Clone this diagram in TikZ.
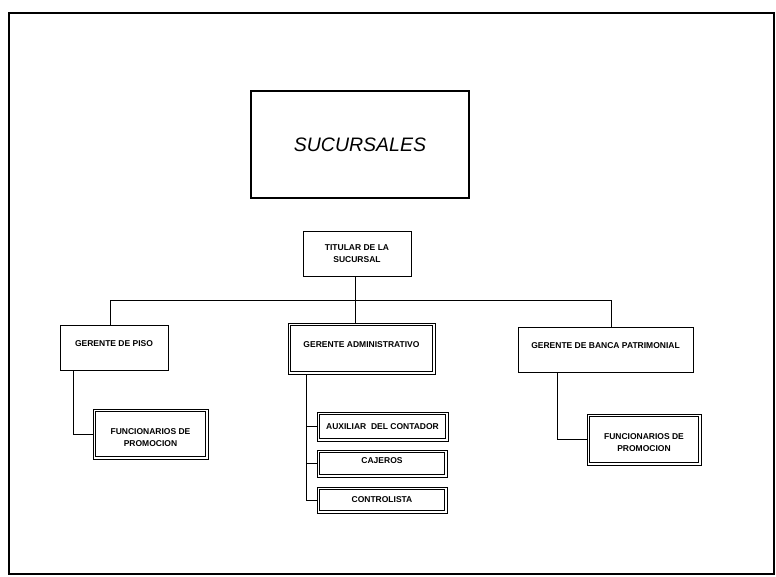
\documentclass[tikz,border=0pt]{standalone}
\usepackage{fontspec}
\setmainfont{Liberation Sans}
\newcommand\rtext[2]{\raisebox{#1}[\height][\depth]{\begin{tabular}{@{}c@{}}#2\end{tabular}}}
\begin{document}
\begin{tikzpicture}[x=1pt,y=-1pt,
  box/.style={draw=black, line width=1pt, align=center, inner sep=1pt,
    font=\fontsize{8.5}{12}\selectfont\bfseries},
  dbox/.style={box},
  inner/.style={draw=black, line width=0.8pt},
  conn/.style={draw=black, line width=0.9pt}]
\useasboundingbox (0,0) rectangle (776,577);
\draw[line width=2pt] (9,13) rectangle (774,574);

\node[draw=black, line width=1.2pt, minimum width=218pt, minimum height=107pt,
  font=\fontsize{19.5}{22}\selectfont\itshape] (suc) at (360,144.5) {SUCURSALES};

\node[box, minimum width=108pt, minimum height=45pt] (tit) at (357,254.5) {\rtext{0pt}{TITULAR DE LA\\SUCURSAL}};
\node[box, minimum width=108pt, minimum height=45pt] (piso) at (114,347.5) {\rtext{3pt}{GERENTE DE PISO}};
\node[dbox, minimum width=147pt, minimum height=51pt] (adm) at (361.5,348.5) {\rtext{3pt}{GERENTE ADMINISTRATIVO}};
\node[box, minimum width=175pt, minimum height=45pt] (ban) at (605.5,349.5) {\rtext{3pt}{GERENTE DE BANCA PATRIMONIAL}};
\node[dbox, minimum width=115pt, minimum height=50pt] (fun1) at (150.5,434) {\rtext{-4pt}{FUNCIONARIOS DE\\PROMOCION}};
\node[dbox, minimum width=131pt, minimum height=29pt] (aux) at (382.5,426.5) {AUXILIAR\ \ DEL CONTADOR};
\node[dbox, minimum width=130pt, minimum height=27pt] (caj) at (382,463.5) {\rtext{2pt}{CAJEROS}};
\node[dbox, minimum width=130pt, minimum height=26pt] (ctl) at (382,500) {CONTROLISTA};
\node[dbox, minimum width=114pt, minimum height=51pt] (fun2) at (644,439.5) {\rtext{-4pt}{FUNCIONARIOS DE\\PROMOCION}};

\foreach \n in {adm,fun1,aux,caj,ctl,fun2}
  \draw[inner] ([shift={(3,3)}]\n.north west) rectangle ([shift={(-3,-3)}]\n.south east);

\coordinate (busL) at (110,300);
\coordinate (busR) at (611,300);
\coordinate (busM) at (355,300);
\coordinate (pisoB) at (73,0);
\coordinate (admB) at (306,0);
\coordinate (banB) at (557,0);

\draw[conn] (tit.south -| busM) -- (busM);
\draw[conn] (busL) -- (busR);
\draw[conn] (busL) -- (busL |- piso.north);
\draw[conn] (busM) -- (busM |- adm.north);
\draw[conn] (busR) -- (busR |- ban.north);

\draw[conn] (piso.south -| pisoB) |- (fun1.west);
\draw[conn] (adm.south -| admB) |- (aux.west);
\draw[conn] (adm.south -| admB) |- (caj.west);
\draw[conn] (adm.south -| admB) |- (ctl.west);
\draw[conn] (ban.south -| banB) |- (fun2.west);
\end{tikzpicture}
\end{document}
